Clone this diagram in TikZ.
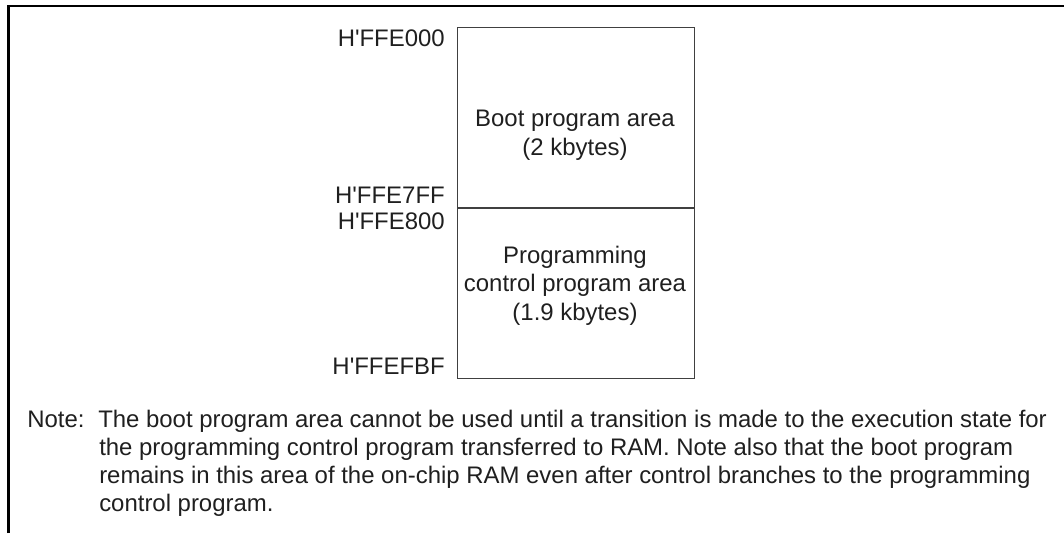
\documentclass[tikz,border=0pt]{standalone}
\usepackage{fontspec}
\setmainfont{Liberation Sans}[Ligatures=TeXOff]
\begin{document}
\begin{tikzpicture}[x=0.75pt,y=-0.75pt,
  frame/.style={line width=1.6pt,draw=black},
  membox/.style={draw=black!75,line width=0.8pt,inner sep=0pt,minimum width=177.75pt},
  txt/.style={inner sep=0pt,text=black!88,font=\fontsize{17.95pt}{21pt}\selectfont},
  addr/.style={txt,anchor=base east},
  ctr/.style={txt,anchor=base},
  note/.style={txt,anchor=base west}]
\useasboundingbox (0,0) rectangle (1064,533);
\draw[frame] (8.5,533) -- (8.5,6) -- (1064,6);
\node (boot) [membox,anchor=north west,minimum height=135pt] at (457,27) {};
\node (prog) [membox,anchor=north west,minimum height=127.5pt] at (boot.south west) {};
\node (a0) [addr] at (445,46) {H'FFE000};
\node (a1) [addr] at (445,203) {H'FFE7FF};
\node (a2) [addr] at (445,229) {H'FFE800};
\node (a3) [addr] at (445,374) {H'FFEFBF};
\node (b1) [ctr] at (575,126.5) {Boot program area};
\node (b2) [ctr] at (575,155.5) {(2 kbytes)};
\node (p1) [ctr] at (575,263) {Programming};
\node (p2) [ctr] at (575,291.5) {control program area};
\node (p3) [ctr] at (575,320) {(1.9 kbytes)};
\node (n0) [note] at (27,427) {Note:};
\node (n1) [note] at (98,427) {The boot program area cannot be used until a transition is made to the execution state for};
\node (n2) [note] at (99,455) {the programming control program transferred to RAM. Note also that the boot program};
\node (n3) [note] at (99,483) {remains in this area of the on-chip RAM even after control branches to the programming};
\node (n4) [note] at (99,511) {control program.};
\end{tikzpicture}
\end{document}
